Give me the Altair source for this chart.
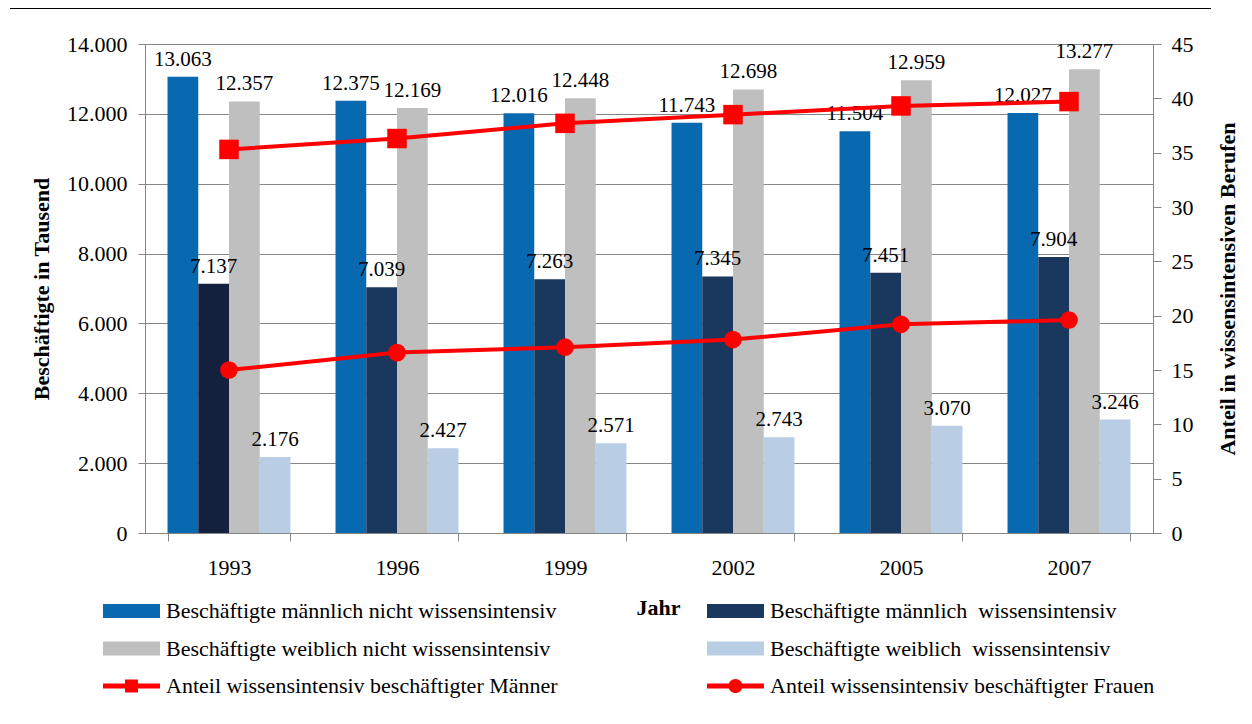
import altair as alt
import pandas as pd

FONT = "Liberation Serif"

years = ["1993", "1996", "1999", "2002", "2005", "2007"]
maennlich_nicht = [13063, 12375, 12016, 11743, 11504, 12027]
maennlich_wiss = [7137, 7039, 7263, 7345, 7451, 7904]
weiblich_nicht = [12357, 12169, 12448, 12698, 12959, 13277]
weiblich_wiss = [2176, 2427, 2571, 2743, 3070, 3246]
anteil_maenner = [35.3, 36.3, 37.7, 38.5, 39.3, 39.7]
anteil_frauen = [15.0, 16.6, 17.1, 17.8, 19.2, 19.6]

bar_series = [
    "Beschäftigte männlich nicht wissensintensiv",
    "Beschäftigte männlich\u00a0 wissensintensiv",
    "Beschäftigte weiblich nicht wissensintensiv",
    "Beschäftigte weiblich\u00a0 wissensintensiv",
]
line_series = [
    "Anteil wissensintensiv beschäftigter Männer",
    "Anteil wissensintensiv beschäftigter Frauen",
]
bar_colors = ["#0868B0", "#1A375E", "#BFBFBF", "#B9CDE5"]
line_color = "#FF0000"

# legend order (filled column by column): left column, then right column
legend_domain = [bar_series[0], bar_series[2], line_series[0],
                 bar_series[1], bar_series[3], line_series[1]]
legend_colors = [bar_colors[0], bar_colors[2], line_color,
                 bar_colors[1], bar_colors[3], line_color]

rows = []
for vals, s in zip([maennlich_nicht, maennlich_wiss, weiblich_nicht, weiblich_wiss], bar_series):
    for y, v in zip(years, vals):
        rows.append({"year": y, "series": s, "value": v,
                     "label": f"{v:,}".replace(",", ".")})
bar_df = pd.DataFrame(rows)

lrows = []
for vals, s in zip([anteil_maenner, anteil_frauen], line_series):
    for y, v in zip(years, vals):
        lrows.append({"year": y, "series": s, "anteil": v})
line_df = pd.DataFrame(lrows)

GRAY = "#868686"

x_enc = alt.X(
    "year:N", sort=years,
    scale=alt.Scale(paddingInner=0.268, paddingOuter=0.134),
    axis=alt.Axis(
        title="Jahr", labelAngle=0, labelFont=FONT, labelFontSize=22, labelColor="black",
        labelPadding=16, tickBand="extent", ticks=True, tickSize=8, tickColor=GRAY,
        domainColor=GRAY, grid=False, titleFont=FONT, titleFontSize=22, titleFontWeight="bold",
        titleColor="black", titleX=513, titleY=74, titleBaseline="middle", titleAlign="center",
    ),
)

# legend symbol paths (unit = 11 px)
shape_expr = (
    f"datum.value === '{line_series[0]}' ? "
    "'M-2.59,-0.22H2.59V0.22H-2.59Z M-0.59,-0.59H0.59V0.59H-0.59Z' : "
    f"datum.value === '{line_series[1]}' ? "
    "'M-2.59,-0.22H2.59V0.22H-2.59Z M0.64,0A0.64,0.64 0 1,1 -0.64,0A0.64,0.64 0 1,1 0.64,0Z' : "
    "'M-2.59,-0.64H2.59V0.64H-2.59Z'"
)

legend = alt.Legend(
    title=None, orient="none", legendX=-42, legendY=556, columns=2,
    columnPadding=149, rowPadding=15.5, symbolSize=484, symbolStrokeWidth=0,
    symbolOffset=17.5,
    labelFont=FONT, labelFontSize=22, labelColor="black", labelOffset=23.5, labelLimit=1000,
    padding=0,
    symbolType=alt.ExprRef(expr=shape_expr),
)

color_enc = alt.condition(
    f"datum.year === '1993' && datum.series === '{bar_series[1]}'",
    alt.value("#13213F"),
    alt.Color("series:N", scale=alt.Scale(domain=legend_domain, range=legend_colors),
              legend=legend),
)

y_left = alt.Y(
    "value:Q", scale=alt.Scale(domain=[0, 14000], nice=False),
    axis=alt.Axis(
        values=list(range(0, 14001, 2000)),
        labelExpr="replace(format(datum.value, ','), ',', '.')",
        title="Beschäftigte in Tausend", grid=True, gridColor=GRAY, gridWidth=1,
        tickSize=7, tickColor=GRAY, domainColor=GRAY, labelPadding=11,
        labelFont=FONT, labelFontSize=22, labelColor="black",
        titleFont=FONT, titleFontSize=22, titleFontWeight="bold", titleColor="black",
        titleAngle=270, titleBaseline="alphabetic", titleAlign="center",
        titleX=-97, titleY=244.5,
    ),
)

xoff = alt.XOffset("series:N", sort=bar_series, scale=alt.Scale(domain=bar_series))

bars = alt.Chart(bar_df).mark_bar().encode(x=x_enc, xOffset=xoff, y=y_left, color=color_enc)
labels = alt.Chart(bar_df).mark_text(
    font=FONT, fontSize=21, baseline="bottom", dy=-7, color="black"
).encode(x=x_enc, xOffset=xoff, y=alt.Y("value:Q", scale=alt.Scale(domain=[0, 14000], nice=False)),
         text="label:N")

y_right = alt.Y(
    "anteil:Q", scale=alt.Scale(domain=[0, 45], nice=False),
    axis=alt.Axis(
        orient="right", values=list(range(0, 46, 5)), grid=False,
        tickSize=8, tickColor=GRAY, domainColor=GRAY, labelPadding=10,
        labelFont=FONT, labelFontSize=22, labelColor="black",
        title="Anteil in wissensintensiven Berufen",
        titleFont=FONT, titleFontSize=22, titleFontWeight="bold", titleColor="black",
        titleAngle=270, titleBaseline="alphabetic", titleAlign="center",
        titleX=81, titleY=244.5,
    ),
)

lines = alt.Chart(line_df).mark_line(color=line_color, strokeWidth=4).encode(
    x=x_enc, y=y_right, detail="series:N")
points = alt.Chart(line_df).mark_point(filled=True, opacity=1, color=line_color).encode(
    x=x_enc,
    y=alt.Y("anteil:Q", scale=alt.Scale(domain=[0, 45], nice=False)),
    shape=alt.Shape("series:N", scale=alt.Scale(domain=line_series, range=["square", "circle"]), legend=None),
    size=alt.Size("series:N", scale=alt.Scale(domain=line_series, range=[380, 314]), legend=None),
)

top_rule = alt.Chart(pd.DataFrame({"k": [0]})).mark_rule(color="black", strokeWidth=2).encode(
    x=alt.value(-135), x2=alt.value(1066), y=alt.value(-36))

left = alt.layer(bars, labels)
right = alt.layer(lines, points)

chart = alt.layer(top_rule, left, right).resolve_scale(y="independent").properties(
    width=1008, height=489,
    padding={"left": 137, "top": 36, "right": 91, "bottom": 183},
    autosize=alt.AutoSizeParams(type="none"),
).configure_view(stroke=None).configure(background="white")

chart.save("out.html", embed_options={"renderer": "svg", "actions": False})
